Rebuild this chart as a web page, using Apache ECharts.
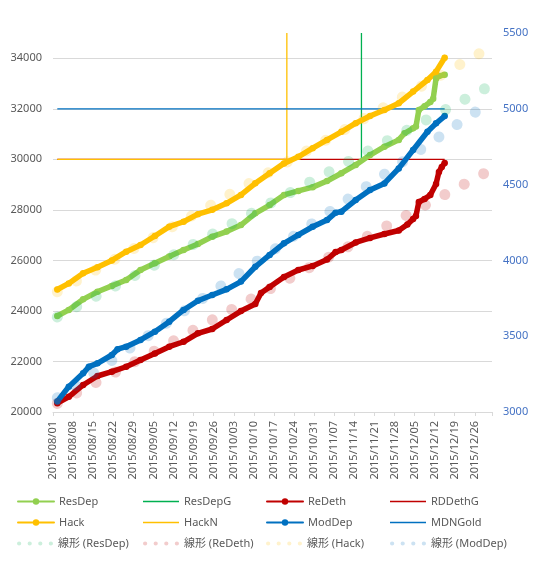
<!DOCTYPE html>
<html><head><meta charset="utf-8">
<script src="https://cdn.jsdelivr.net/npm/echarts@6/dist/echarts.min.js"></script>
<style>html,body{margin:0;padding:0;background:#fff}#c{width:533px;height:562px}</style>
</head><body><div id="c"></div>
<script>
// ---- data ----
const axisStart = '2015/08/01';
const axisDays = 153;          // 2015/08/01 .. 2016/01/01
const tickEveryDays = 7;

const resDepDates = ['2015/08/02','2015/08/06','2015/08/11','2015/08/16','2015/08/21','2015/08/26','2015/08/31','2015/09/05','2015/09/10','2015/09/15','2015/09/20','2015/09/25','2015/09/30','2015/10/05','2015/10/10','2015/10/15','2015/10/20','2015/10/25','2015/10/30','2015/11/04','2015/11/09','2015/11/14','2015/11/19','2015/11/24','2015/11/29','2015/12/01','2015/12/04','2015/12/05','2015/12/06','2015/12/08','2015/12/10','2015/12/11','2015/12/12','2015/12/13','2015/12/15'];
const resDepValues = [23800,24040,24460,24760,24990,25225,25620,25885,26150,26410,26650,26940,27140,27400,27865,28190,28590,28750,28900,29140,29450,29780,30170,30500,30770,31030,31230,31300,31950,32100,32270,32400,33200,33300,33350];

const reDethDates = ['2015/08/02','2015/08/06','2015/08/11','2015/08/16','2015/08/21','2015/08/26','2015/08/31','2015/09/05','2015/09/10','2015/09/15','2015/09/20','2015/09/25','2015/09/30','2015/10/05','2015/10/10','2015/10/12','2015/10/15','2015/10/20','2015/10/25','2015/10/30','2015/11/04','2015/11/07','2015/11/09','2015/11/14','2015/11/19','2015/11/24','2015/11/29','2015/12/02','2015/12/04','2015/12/05','2015/12/06','2015/12/08','2015/12/10','2015/12/12','2015/12/13','2015/12/14','2015/12/15'];
const reDethValues = [20350,20600,21070,21425,21595,21790,22060,22320,22585,22780,23115,23285,23640,23995,24275,24710,24950,25345,25620,25780,26035,26330,26410,26710,26890,27045,27185,27420,27640,27760,28310,28430,28590,29025,29500,29700,29850];

const hackDates = ['2015/08/02','2015/08/06','2015/08/11','2015/08/16','2015/08/21','2015/08/26','2015/08/31','2015/09/05','2015/09/10','2015/09/15','2015/09/20','2015/09/25','2015/09/30','2015/10/05','2015/10/10','2015/10/15','2015/10/20','2015/10/25','2015/10/30','2015/11/04','2015/11/09','2015/11/14','2015/11/19','2015/11/24','2015/11/29','2015/12/04','2015/12/09','2015/12/12','2015/12/15'];
const hackValues = [24850,25090,25490,25730,26000,26345,26610,26965,27335,27530,27830,28000,28260,28590,29050,29450,29840,30100,30440,30770,31090,31430,31715,31950,32220,32680,33140,33470,34020];

const modDepDates = ['2015/08/02','2015/08/06','2015/08/11','2015/08/13','2015/08/16','2015/08/21','2015/08/23','2015/08/26','2015/08/31','2015/09/05','2015/09/10','2015/09/15','2015/09/20','2015/09/25','2015/09/30','2015/10/05','2015/10/10','2015/10/15','2015/10/20','2015/10/25','2015/10/30','2015/11/04','2015/11/07','2015/11/09','2015/11/14','2015/11/19','2015/11/24','2015/11/29','2015/12/04','2015/12/09','2015/12/12','2015/12/15'];
const modDepValues = [3070,3167,3255,3299,3321,3376,3414,3431,3475,3530,3596,3673,3734,3772,3809,3860,3958,4036,4113,4168,4222,4266,4315,4321,4398,4464,4508,4607,4728,4849,4904,4952];

// goal lines
const resDepGDates = ['2015/11/16','2015/11/16'];
const resDepGValues = [30000,35000];
const rdDethGDates = ['2015/08/02','2015/12/15'];
const rdDethGValues = [30000,30000];
const hackNDates = ['2015/08/02','2015/10/21','2015/10/21'];
const hackNValues = [30000,30000,35000];
const mdnGoldDates = ['2015/08/02','2015/12/15'];
const mdnGoldValues = [5000,5000];

// linear trend lines (start / forecast end)
const trendDates = ['2015/08/02','2015/12/31'];
const trendResDep = [23760,32920];
const trendReDeth = [20340,29580];
const trendHack = [24760,34440];
const trendModDep = [3094,5047];

const legendNames = ['ResDep','ResDepG','ReDeth','RDDethG','Hack','HackN','ModDep','MDNGold','線形 (ResDep)','線形 (ReDeth)','線形 (Hack)','線形 (ModDep)'];
const goalNames = ['ResDepG','RDDethG','HackN','MDNGold'];

// ---- helpers ----
const DAY = 86400000;
function ymd(s){const p=s.split('/').map(Number);return Date.UTC(p[0],p[1]-1,p[2]);}
const t0 = ymd(axisStart);
function dayPos(s){return (ymd(s)-t0)/DAY + 0.5;}
function pairs(dates, vals){return dates.map((d,i)=>[dayPos(d), vals[i]]);}
function fmtDay(v){const d=new Date(t0+v*DAY);const m=('0'+(d.getUTCMonth()+1)).slice(-2);const dd=('0'+d.getUTCDate()).slice(-2);return d.getUTCFullYear()+'/'+m+'/'+dd;}

const FONT = '"Noto Sans","Noto Sans CJK JP",sans-serif';

function dataLine(name, color, dates, vals, yIdx){
  return {name, type:'line', yAxisIndex:yIdx, data:pairs(dates,vals), z:2,
    symbol:'circle', symbolSize:6.5, showSymbol:true,
    itemStyle:{color}, lineStyle:{color, width:5.5, cap:'round', join:'round'},
    emphasis:{disabled:true}, animation:false};
}
function goalLine(name, color, dates, vals, yIdx){
  return {name, type:'line', yAxisIndex:yIdx, data:pairs(dates,vals), z:1,
    symbol:'none', itemStyle:{color}, lineStyle:{color, width:1.3},
    emphasis:{disabled:true}, animation:false};
}
function trendLine(name, color, vals, yIdx){
  return {name, type:'line', yAxisIndex:yIdx, data:pairs(trendDates,vals), z:3,
    symbol:'none', itemStyle:{color},
    lineStyle:{color, width:11, type:[0.01,22], cap:'round'},
    emphasis:{disabled:true}, animation:false};
}

const series = [
  dataLine('ResDep','#92D050',resDepDates,resDepValues,0),
  goalLine('ResDepG','#00B050',resDepGDates,resDepGValues,0),
  dataLine('ReDeth','#C00000',reDethDates,reDethValues,0),
  goalLine('RDDethG','#C00000',rdDethGDates,rdDethGValues,0),
  dataLine('Hack','#FFC000',hackDates,hackValues,0),
  goalLine('HackN','#FFC000',hackNDates,hackNValues,0),
  goalLine('MDNGold','#0070C0',mdnGoldDates,mdnGoldValues,1),
  dataLine('ModDep','#0070C0',modDepDates,modDepValues,1),
  trendLine('線形 (ResDep)','rgba(0,176,80,0.2)',trendResDep,0),
  trendLine('線形 (ReDeth)','rgba(192,0,0,0.2)',trendReDeth,0),
  trendLine('線形 (Hack)','rgba(255,192,0,0.2)',trendHack,0),
  trendLine('線形 (ModDep)','rgba(0,112,192,0.2)',trendModDep,1)
];

const dotsIcon = 'path://M0,2a2,2 0 1,0 4,0a2,2 0 1,0 -4,0M10,2a2,2 0 1,0 4,0a2,2 0 1,0 -4,0M20,2a2,2 0 1,0 4,0a2,2 0 1,0 -4,0M30,2a2,2 0 1,0 4,0a2,2 0 1,0 -4,0';
const thinIcon = 'path://M0,0H36V1.3H0Z';
const colX = [17,143,266,390];
const rowY = [496,517,538];
const legends = legendNames.map((n,i)=>{
  let item = {name:n};
  if (n.indexOf('線形')===0) item = {name:n, icon:dotsIcon};
  else if (goalNames.indexOf(n)>=0) item = {name:n, icon:thinIcon};
  return {data:[item], left:colX[i%4], top:rowY[Math.floor(i/4)], padding:0,
    itemWidth:36, itemHeight:8, selectedMode:false,
    textStyle:{color:'#595959', fontSize:11, fontFamily:FONT}};
});

const chart = echarts.init(document.getElementById('c'), null, {renderer:'canvas'});
chart.setOption({
  animation:false,
  backgroundColor:'#fff',
  textStyle:{fontFamily:FONT},
  grid:{left:53, right:41, top:33, bottom:150, containLabel:false},
  xAxis:{type:'value', min:0, max:axisDays, interval:tickEveryDays,
    axisLine:{show:true, lineStyle:{color:'#d9d9d9'}},
    axisTick:{show:true, length:4, lineStyle:{color:'#d9d9d9'}},
    splitLine:{show:false},
    axisLabel:{rotate:90, margin:9, color:'#595959', fontSize:11, fontFamily:FONT,
      formatter:v=> (v % tickEveryDays === 0 && v < axisDays) ? fmtDay(v) : ''}},
  yAxis:[
    {type:'value', min:20000, max:35000, interval:2000,
      axisLine:{show:false}, axisTick:{show:false},
      splitLine:{show:true, showMaxLine:false, lineStyle:{color:'#d9d9d9'}},
      axisLabel:{color:'#595959', fontSize:11, margin:11, fontFamily:FONT, showMaxLabel:false,
        formatter:v=> v>=35000 ? '' : String(v)}},
    {type:'value', min:3000, max:5500, interval:500, position:'right',
      axisLine:{show:false}, axisTick:{show:false}, splitLine:{show:false},
      axisLabel:{color:'#4472C4', fontSize:11, margin:11, fontFamily:FONT,
        formatter:v=> String(v)}}
  ],
  legend: legends,
  series
});
</script></body></html>
